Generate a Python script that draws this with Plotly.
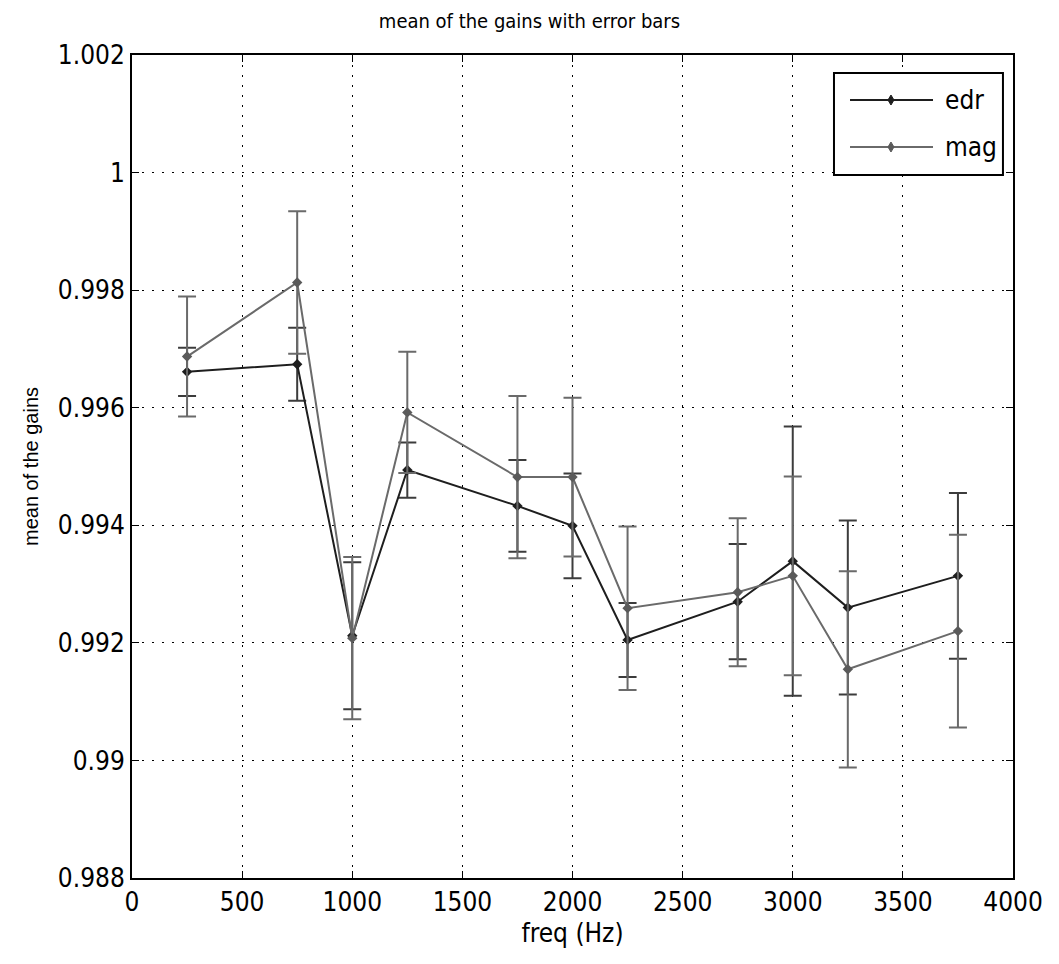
import plotly.graph_objects as go

freq = [250, 750, 1000, 1250, 1750, 2000, 2250, 2750, 3000, 3250, 3750]
edr = [0.99661, 0.99674, 0.99212, 0.99494, 0.99433, 0.99399, 0.99205, 0.99270, 0.99339, 0.99260, 0.99314]
edr_err = [0.00041, 0.00062, 0.00125, 0.00047, 0.00078, 0.00089, 0.00063, 0.00098, 0.00229, 0.00148, 0.00141]
mag = [0.99687, 0.99813, 0.99208, 0.99592, 0.99482, 0.99482, 0.99259, 0.99286, 0.99314, 0.99155, 0.99220]
mag_err = [0.00102, 0.00121, 0.00138, 0.00103, 0.00138, 0.00135, 0.00139, 0.00126, 0.00169, 0.00167, 0.00164]

x_ticks = [0, 500, 1000, 1500, 2000, 2500, 3000, 3500, 4000]
y_ticks = [0.988, 0.99, 0.992, 0.994, 0.996, 0.998, 1.0, 1.002]
y_ticktext = ["0.988", "0.99", "0.992", "0.994", "0.996", "0.998", "1", "1.002"]

series_names = ["edr", "mag"]
line_colors = ["#1e1e1e", "#6a6a6a"]
marker_colors = ["#1e1e1e", "#5a5a5a"]
err_colors = ["#3c3c3c", "#6a6a6a"]

COND = "DejaVu Sans Condensed, Liberation Sans, sans-serif"

fig = go.Figure()
for name, y, err, lc, mc, ec in zip(series_names, [edr, mag], [edr_err, mag_err],
                                    line_colors, marker_colors, err_colors):
    fig.add_trace(go.Scatter(
        x=freq, y=y, name=name, mode="lines+markers", showlegend=False,
        line=dict(color=lc, width=2),
        marker=dict(symbol="diamond", size=8, color=mc),
        error_y=dict(type="data", array=err, visible=True, color=ec, thickness=2, width=9),
    ))

axis_common = dict(
    showline=True, linecolor="black", linewidth=2, mirror="ticks",
    ticks="inside", ticklen=7, tickcolor="black", tickwidth=1,
    showgrid=True, gridcolor="black", gridwidth=1, griddash="2px,8px",
    zeroline=False,
    tickfont=dict(family=COND, size=26, color="black"),
)

# manual legend (paper coordinates)
shapes = [dict(type="rect", xref="paper", yref="paper", x0=0.7968, x1=0.9886, y0=0.8542, y1=0.9781,
               line=dict(color="black", width=2), fillcolor="white", layer="above")]
annotations = []
leg_y = [0.9453, 0.8882]
for name, ly, lc, mc in zip(series_names, leg_y, line_colors, marker_colors):
    shapes.append(dict(type="line", xref="paper", yref="paper", x0=0.8150, x1=0.9092, y0=ly, y1=ly,
                       line=dict(color=lc, width=2), layer="above"))
    shapes.append(dict(type="path", xref="paper", yref="paper", xsizemode="pixel", ysizemode="pixel",
                       xanchor=0.8615, yanchor=ly, path="M0,-5 L3,0 L0,5 L-3,0 Z",
                       fillcolor=mc, line=dict(color=mc, width=1), layer="above"))
    annotations.append(dict(xref="paper", yref="paper", x=0.9206, y=ly, xanchor="left", yanchor="middle",
                            text=name, showarrow=False, font=dict(family=COND, size=26, color="black")))

fig.update_layout(
    width=1059, height=964,
    margin=dict(l=132, r=46, t=55, b=86),
    paper_bgcolor="white", plot_bgcolor="white",
    title=dict(text="mean of the gains with error bars", x=0.5, xanchor="center",
               y=0.985, yanchor="top",
               font=dict(family=COND, size=20, color="black")),
    xaxis=dict(range=[0, 4000], tickvals=x_ticks, ticktext=[str(v) for v in x_ticks],
               title=dict(text="freq (Hz)", font=dict(family=COND, size=26, color="black"), standoff=8),
               **axis_common),
    yaxis=dict(range=[0.988, 1.002], tickvals=y_ticks, ticktext=y_ticktext,
               title=dict(text="mean of the gains", font=dict(family="Liberation Sans, Arial, sans-serif", size=20, color="black"), standoff=14),
               **axis_common),
    shapes=shapes,
    annotations=annotations,
    showlegend=False,
)

fig.write_html("out.html")
